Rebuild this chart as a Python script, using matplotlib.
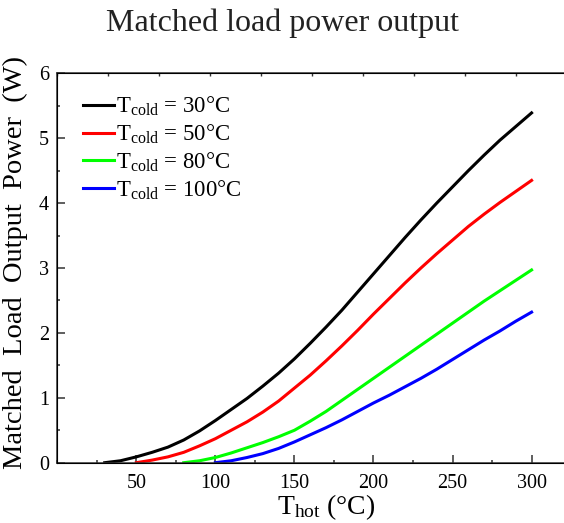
import numpy as np
import matplotlib.pyplot as plt
from matplotlib.ticker import MultipleLocator

plt.rcParams['font.family'] = ['Liberation Serif', 'DejaVu Serif']
plt.rcParams['mathtext.fontset'] = 'custom'
plt.rcParams['mathtext.rm'] = 'Liberation Serif'
plt.rcParams['mathtext.it'] = 'Liberation Serif:italic'

# data (T_hot in degC, power in W)
t_30 = [30, 40, 50, 60, 70, 80, 90, 100, 110, 120, 130, 140, 150, 160, 170, 180, 190,
        200, 210, 220, 230, 240, 250, 260, 270, 280, 290, 300]
p_30 = [0.0, 0.03, 0.09, 0.16, 0.24, 0.35, 0.49, 0.65, 0.82, 0.99, 1.18, 1.38, 1.60,
        1.84, 2.09, 2.35, 2.63, 2.91, 3.19, 3.47, 3.74, 4.00, 4.25, 4.50, 4.74, 4.97,
        5.18, 5.39]

t_50 = [50, 60, 70, 80, 90, 100, 110, 120, 130, 140, 150, 160, 170, 180, 190, 200, 210,
        220, 230, 240, 250, 260, 270, 280, 290, 300]
p_50 = [0.0, 0.04, 0.09, 0.16, 0.26, 0.37, 0.50, 0.63, 0.78, 0.95, 1.15, 1.35, 1.57,
        1.80, 2.04, 2.29, 2.53, 2.77, 3.00, 3.22, 3.43, 3.64, 3.83, 4.01, 4.18, 4.35]

t_80 = [80, 90, 100, 110, 120, 130, 140, 150, 160, 170, 180, 190, 200, 210, 220, 230,
        240, 250, 260, 270, 280, 290, 300]
p_80 = [0.0, 0.03, 0.08, 0.15, 0.23, 0.31, 0.40, 0.50, 0.64, 0.79, 0.96, 1.13, 1.30,
        1.47, 1.64, 1.81, 1.98, 2.15, 2.32, 2.49, 2.65, 2.81, 2.97]

t_100 = [100, 110, 120, 130, 140, 150, 160, 170, 180, 190, 200, 210, 220, 230, 240, 250,
         260, 270, 280, 290, 300]
p_100 = [0.0, 0.03, 0.08, 0.14, 0.22, 0.32, 0.43, 0.54, 0.66, 0.79, 0.92, 1.04, 1.17,
         1.30, 1.44, 1.59, 1.74, 1.89, 2.03, 2.18, 2.32]

labels = [r'T$_{\rm cold}$ = 30°C', r'T$_{\rm cold}$ = 50°C',
          r'T$_{\rm cold}$ = 80°C', r'T$_{\rm cold}$ = 100°C']
colors = ['#000000', '#ff0000', '#00ff00', '#0000ff']

fig = plt.figure(figsize=(5.64, 5.23), dpi=100)
ax = fig.add_axes([0.1016, 0.1153, 0.925, 0.7445])

for t, p, c, lab in zip([t_30, t_50, t_80, t_100], [p_30, p_50, p_80, p_100], colors, labels):
    ax.plot(t, p, color=c, lw=2.2, label=lab, solid_joinstyle='round')

ax.set_xlim(0, 330)
ax.set_ylim(0, 6)
ax.set_xticks([50, 100, 150, 200, 250, 300])
ax.xaxis.set_minor_locator(MultipleLocator(25))
ax.yaxis.set_major_locator(MultipleLocator(1))
ax.yaxis.set_minor_locator(MultipleLocator(0.5))
ax.tick_params(which='both', direction='in', labelsize=14.5, color='#333333', width=1.1)
ax.tick_params(which='major', length=5.5)
ax.tick_params(which='minor', length=2.4)
ax.tick_params(axis='x', pad=8)
ax.tick_params(axis='y', pad=6)
for s in ax.spines.values():
    s.set_color('#333333')
    s.set_linewidth(1.1)

# top axis has its own small ticks
top = ax.twiny()
top.set_xlim(0, 330 / 32.26)
top.xaxis.set_major_locator(MultipleLocator(1))
top.tick_params(direction='in', length=2, width=1, color='#333333', labeltop=False)

ax.set_xlabel(r'T$_{\rm hot}$ (°C)', fontsize=20)
ax.xaxis.set_label_coords(0.515, -0.075)
ax.set_ylabel('Matched  Load  Output  Power  (W)', fontsize=20.5)
ax.yaxis.set_label_coords(-0.057, 0.515)
fig.text(0.5, 0.955, 'Matched load power output', ha='center', va='center', fontsize=23,
         color='#222222')

ax.legend(loc='upper left', bbox_to_anchor=(0.05, 0.945), frameon=False, fontsize=16.4,
          handlelength=1.35, handletextpad=0.1, labelspacing=0.2, borderpad=0,
          borderaxespad=0)

fig.savefig('out.png', dpi=100)
